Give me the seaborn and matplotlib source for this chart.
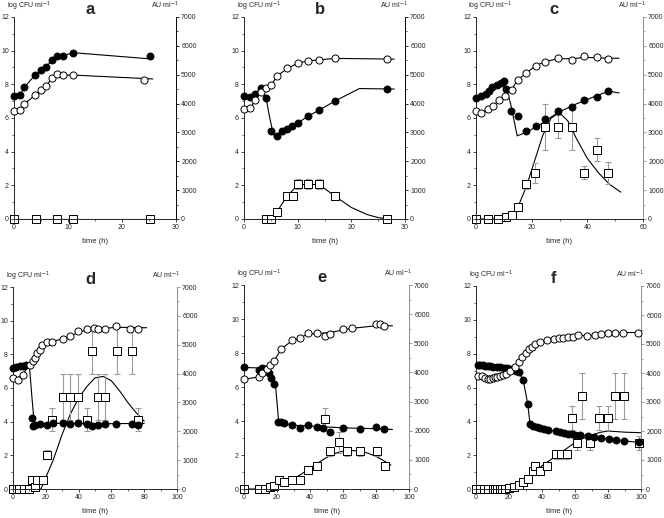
import numpy as np
import matplotlib
matplotlib.use("Agg")
import matplotlib.pyplot as plt
import seaborn as sns
from matplotlib.ticker import MultipleLocator

sns.set_style("ticks")
plt.rcParams['font.family'] = ['Liberation Sans', 'DejaVu Sans']

# -------------------------------
# panel a
# -------------------------------
a_fill_t = [0, 1.1, 1.9, 3.9, 5.0, 6.0, 7.0, 8.0, 9.1, 11.0, 25.1]
a_fill = [7.31, 7.35, 7.82, 8.55, 8.85, 9.05, 9.43, 9.68, 9.70, 9.88, 9.68]
a_fill_line_t = [0, 1.1, 1.9, 3.9, 5.0, 6.0, 7.0, 8.0, 9.1, 11.0, 25.7]
a_fill_line = [7.31, 7.35, 7.82, 8.55, 8.85, 9.05, 9.43, 9.68, 9.70, 9.88, 9.50]
a_open_t = [0, 1.1, 1.9, 3.9, 5.0, 6.0, 7.0, 8.0, 9.1, 11.0, 24.0]
a_open = [6.42, 6.50, 6.81, 7.37, 7.66, 7.92, 8.36, 8.61, 8.55, 8.55, 8.26]
a_open_line_t = [0, 1.1, 1.9, 3.9, 5.0, 6.0, 7.0, 8.0, 9.1, 11.0, 25.7]
a_open_line = [6.42, 6.50, 6.81, 7.37, 7.66, 7.92, 8.36, 8.61, 8.55, 8.55, 8.32]
a_sq_t = [0, 4.1, 8.0, 11.0, 25.1]
a_sq = [0, 0, 0, 0, 0]
a_sq_err = [0, 0, 0, 0, 0]
a_sq_line_t = [0, 26]
a_sq_line = [0, 0]

# -------------------------------
# panel b
# -------------------------------
b_fill_t = [0, 1.2, 2.1, 3.2, 4.1, 5.0, 6.1, 7.0, 8.1, 9.0, 10.0, 11.9, 13.9, 16.9, 26.7]
b_fill = [7.3, 7.25, 7.45, 7.8, 7.2, 5.2, 4.95, 5.25, 5.35, 5.5, 5.7, 6.1, 6.45, 7.0, 7.7]
b_fill_line_t = [0, 1.2, 2.1, 3.2, 4.1, 4.8, 5.5, 6.1, 7.0, 8.1, 9.0, 10.0, 11.9, 13.9, 16.9, 21.5, 28]
b_fill_line = [7.3, 7.25, 7.45, 7.8, 7.2, 6.0, 5.0, 4.95, 5.25, 5.35, 5.5, 5.7, 6.1, 6.45, 7.0, 7.75, 7.72]
b_open_t = [0, 1.2, 2.1, 3.2, 4.1, 5.1, 6.2, 8.1, 10.0, 11.9, 13.9, 16.9, 26.7]
b_open = [6.53, 6.57, 7.07, 7.56, 7.80, 7.96, 8.50, 8.95, 9.25, 9.39, 9.45, 9.54, 9.50]
b_open_line_t = [0, 1.2, 2.1, 3.2, 4.1, 5.1, 6.2, 8.1, 10.0, 11.9, 13.9, 16.9, 28]
b_open_line = [6.53, 6.57, 7.07, 7.56, 7.80, 7.96, 8.50, 8.95, 9.25, 9.39, 9.45, 9.54, 9.50]
b_sq_t = [4.1, 5.0, 6.1, 8.1, 9.1, 10.1, 12.0, 13.9, 16.9, 26.7]
b_sq = [0, 0, 230, 800, 800, 1200, 1200, 1200, 800, 0]
b_sq_err = [0, 0, 0, 110, 0, 170, 170, 170, 130, 0]
b_sq_line_t = [4.1, 5.0, 6.1, 7.0, 8.1, 10.0, 12.0, 14.0, 16.9, 20, 23, 25, 27]
b_sq_line = [0, 0, 230, 500, 800, 1180, 1200, 1190, 800, 400, 150, 50, 0]

# -------------------------------
# panel c
# -------------------------------
c_fill_t = [0, 1.7, 3.6, 4.8, 5.8, 7.5, 9.1, 10.1, 10.9, 12.5, 15.0, 18.1, 21.4, 24.7, 29.6, 34.6, 38.9, 43.4, 47.4]
c_fill = [7.16, 7.33, 7.45, 7.59, 7.82, 7.98, 8.08, 8.18, 7.75, 6.41, 6.12, 5.24, 5.53, 5.92, 6.41, 6.65, 7.04, 7.24, 7.59]
c_fill_line_t = [0, 1.7, 3.6, 4.8, 5.8, 7.5, 9.1, 10.1, 10.9, 12.5, 14.8, 18.0, 23.2, 29.3, 35.5, 42.8, 47.7, 51.4]
c_fill_line = [7.16, 7.33, 7.45, 7.59, 7.82, 7.98, 8.08, 8.18, 7.75, 6.8, 4.94, 5.14, 5.63, 6.31, 6.8, 7.29, 7.59, 7.49]
c_open_t = [0, 1.7, 4.2, 6.0, 8.2, 10.3, 12.8, 15.0, 18.1, 21.4, 24.8, 29.6, 34.6, 38.8, 43.4, 47.4]
c_open = [6.41, 6.27, 6.51, 6.71, 7.04, 7.29, 7.69, 8.27, 8.67, 9.10, 9.35, 9.55, 9.45, 9.69, 9.61, 9.49]
c_open_line_t = [0, 1.7, 4.2, 6.0, 8.2, 10.3, 12.8, 15.0, 18.1, 21.4, 24.8, 29.6, 34.6, 38.8, 43.4, 47.4, 51.4]
c_open_line = [6.41, 6.27, 6.51, 6.71, 7.04, 7.29, 7.69, 8.27, 8.67, 9.10, 9.35, 9.52, 9.52, 9.6, 9.58, 9.55, 9.55]
c_sq_t = [0, 4.2, 7.9, 10.9, 12.8, 15.0, 18.0, 21.1, 24.8, 29.6, 34.6, 38.8, 43.4, 47.4]
c_sq = [0, 0, 0, 57, 137, 400, 1200, 1600, 3190, 3190, 3190, 1600, 2400, 1600]
c_sq_err = [0, 0, 0, 0, 0, 0, 150, 350, 800, 400, 800, 220, 400, 380]
c_sq_line_t = [0, 10, 12.5, 15, 18, 21, 24, 27, 30, 33, 36, 40, 44, 48, 52]
c_sq_line = [0, 0, 100, 400, 1100, 2000, 2900, 3500, 3680, 3400, 2800, 2100, 1600, 1200, 930]

# -------------------------------
# panel d
# -------------------------------
d_fill_t = [0, 2.0, 4.1, 6.2, 8.2, 11.3, 12.1, 13.3, 16.2, 20.9, 24.6, 30.2, 34.7, 39.8, 45.2, 48.1, 51.7, 55.8, 63.0, 72.3, 76.4]
d_fill = [7.19, 7.23, 7.29, 7.33, 7.39, 4.22, 3.72, 3.82, 3.86, 3.82, 3.92, 3.92, 3.88, 3.92, 3.86, 3.74, 3.82, 3.88, 3.88, 3.88, 3.82]
d_fill_line_t = [0, 10.0, 11.5, 13.0, 20, 40, 60, 80]
d_fill_line = [7.2, 7.35, 5.5, 3.85, 3.9, 3.9, 3.88, 3.9]
d_open_t = [0, 2.9, 6.2, 10.3, 12.1, 13.3, 14.8, 16.2, 17.9, 20.5, 24.0, 30.2, 34.7, 39.8, 45.2, 49.3, 51.7, 55.8, 63.0, 71.3, 76.4]
d_open = [6.59, 6.49, 6.79, 7.39, 7.58, 7.78, 8.08, 8.28, 8.57, 8.71, 8.71, 8.93, 9.07, 9.37, 9.50, 9.54, 9.50, 9.50, 9.70, 9.52, 9.52]
d_open_line_t = [0, 2.9, 6.2, 10.3, 12.1, 13.3, 14.8, 16.2, 17.9, 20.5, 24.0, 30.2, 34.7, 39.8, 45.2, 49.3, 55.8, 63.0, 71.3, 81.5]
d_open_line = [6.59, 6.6, 6.85, 7.39, 7.58, 7.78, 8.08, 8.28, 8.57, 8.71, 8.75, 8.93, 9.07, 9.3, 9.45, 9.5, 9.55, 9.6, 9.6, 9.58]
d_sq_t = [0, 3.5, 6.6, 9.7, 11.7, 13.3, 14.8, 18.5, 20.9, 24.0, 30.2, 34.7, 39.4, 45.2, 48.1, 51.7, 55.8, 63.5, 72.7, 76.0]
d_sq = [0, 0, 0, 0, 300, 60, 300, 300, 1190, 2400, 3190, 3190, 3190, 2400, 4770, 3190, 3190, 4770, 4770, 2400]
d_sq_err = [0, 0, 0, 0, 0, 0, 0, 0, 150, 400, 800, 800, 800, 400, 800, 800, 800, 800, 800, 400]
d_sq_line_t = [0, 17, 20, 24.5, 30, 35, 40, 45, 50, 55, 60, 65, 70, 75, 80]
d_sq_line = [0, 0, 400, 1000, 1900, 2600, 3150, 3550, 3850, 3900, 3750, 3400, 3000, 2650, 2350]

# -------------------------------
# panel e
# -------------------------------
e_fill_t = [0, 9.1, 11.2, 12.6, 14.0, 15.2, 16.6, 18.3, 20.7, 22.7, 24.3, 28.8, 33.9, 38.5, 44.0, 48.0, 52.1, 59.8, 70.4, 80.1, 84.6]
e_fill = [7.2, 7.0, 7.1, 7.05, 6.95, 6.8, 6.55, 6.2, 3.96, 3.96, 3.87, 3.77, 3.57, 3.77, 3.67, 3.6, 3.35, 3.57, 3.55, 3.65, 3.52]
e_fill_line_t = [0, 15, 17, 19, 21, 25, 30, 40, 50, 60, 70, 80, 90]
e_fill_line = [7.15, 7.1, 6.8, 6.2, 4.0, 3.85, 3.75, 3.7, 3.65, 3.6, 3.57, 3.55, 3.5]
e_open_t = [0, 9.1, 11.2, 14.0, 15.6, 18.3, 22.7, 28.8, 33.9, 38.5, 44.0, 49.1, 52.1, 59.8, 65.3, 79.9, 82.2, 84.6]
e_open = [6.45, 6.6, 6.8, 7.05, 7.3, 7.55, 8.25, 8.75, 8.9, 9.2, 9.15, 9.0, 9.1, 9.4, 9.45, 9.7, 9.7, 9.6]
e_open_line_t = [0, 9.1, 11.2, 14.0, 15.6, 18.3, 22.7, 28.8, 33.9, 38.5, 44.0, 52.1, 59.8, 65.3, 79.9, 90]
e_open_line = [6.45, 6.6, 6.8, 7.05, 7.3, 7.55, 8.25, 8.7, 8.9, 9.1, 9.15, 9.2, 9.35, 9.45, 9.6, 9.6]
e_sq_t = [0, 9.1, 12.6, 15.6, 18.3, 21.3, 24.3, 28.8, 33.9, 38.9, 44.0, 49.1, 52.1, 57.8, 62.7, 70.0, 80.9, 85.2]
e_sq = [0, 0, 0, 70, 90, 320, 240, 320, 320, 640, 800, 2390, 1290, 1600, 1290, 1290, 1290, 800]
e_sq_err = [0, 0, 0, 0, 0, 0, 0, 0, 0, 0, 120, 400, 150, 350, 150, 150, 150, 120]
e_sq_line_t = [0, 17, 20, 25, 30, 35, 40, 45, 50, 55, 60, 65, 70, 75, 80, 85, 89]
e_sq_line = [0, 0, 100, 250, 350, 520, 720, 900, 1080, 1220, 1300, 1320, 1300, 1230, 1120, 960, 820]

# -------------------------------
# panel f
# -------------------------------
f_fill_t = [1.0, 2.4, 4.1, 5.7, 7.1, 8.6, 10.6, 12.7, 14.7, 16.7, 18.8, 20.8, 22.9, 24.5, 25.9, 28.6, 31.4, 32.7, 34.7, 36.7, 38.8, 41.2, 43.7, 48.4, 50.8, 53.5, 55.5, 58.0, 60.0, 63.3, 67.8, 71.8, 75.9, 80.6, 85.1, 89.8, 99.0]
f_fill = [7.35, 7.33, 7.32, 7.3, 7.28, 7.25, 7.22, 7.2, 7.2, 7.18, 7.15, 7.12, 7.1, 7.0, 6.9, 6.45, 5.0, 3.85, 3.75, 3.68, 3.62, 3.55, 3.5, 3.4, 3.35, 3.3, 3.28, 3.25, 3.22, 3.2, 3.15, 3.1, 3.0, 2.95, 2.9, 2.85, 2.75]
f_open_t = [1.0, 3.5, 5.5, 7.1, 8.6, 10.0, 11.6, 13.0, 14.7, 16.3, 18.0, 20.8, 23.5, 25.9, 28.0, 30.0, 32.0, 34.0, 36.0, 39.0, 43.0, 47.0, 50.0, 53.0, 56.0, 59.0, 62.0, 67.0, 72.0, 76.0, 80.0, 84.0, 89.0, 98.0]
f_open = [6.66, 6.66, 6.55, 6.5, 6.5, 6.55, 6.6, 6.65, 6.7, 6.75, 6.8, 7.0, 7.2, 7.5, 7.8, 8.05, 8.25, 8.4, 8.55, 8.7, 8.8, 8.85, 8.9, 8.95, 9.0, 9.0, 9.1, 9.05, 9.1, 9.15, 9.2, 9.2, 9.25, 9.25]
f_sq_t = [0, 2.5, 5, 7.5, 10, 11.5, 13, 14.5, 16, 17.5, 20.2, 23, 26, 28.6, 31.4, 34.5, 36, 38.8, 43.3, 48.4, 51.8, 55, 58, 61, 64, 68.8, 74.3, 80, 84, 89.8, 99]
f_sq = [0, 0, 0, 0, 0, 0, 0, 0, 0, 0, 50, 70, 130, 250, 350, 610, 810, 610, 810, 1190, 1190, 1190, 2450, 1580, 3200, 1580, 2450, 2450, 3200, 3200, 1580]
f_sq_err = [0, 0, 0, 0, 0, 0, 0, 0, 0, 0, 0, 0, 0, 0, 0, 100, 100, 100, 100, 150, 150, 150, 400, 250, 800, 250, 400, 400, 800, 800, 250]
f_sq_line_t = [0, 18, 22, 26, 30, 35, 40, 45, 50, 55, 60, 65, 70, 75, 80, 85, 90, 95, 100]
f_sq_line = [0, 0, 50, 150, 300, 550, 800, 1000, 1200, 1400, 1600, 1750, 1850, 1950, 2000, 1980, 1960, 1950, 1940]

W, H = 664, 518


def rect(x0, x1, y0, y1):
    return [x0 / W, 1 - y1 / H, (x1 - x0) / W, (y1 - y0) / H]


def draw_panel(box, letter, xmax, xstep, fill, open_, sq, right_col):
    ax = fig.add_axes(box)
    ax2 = ax.twinx()
    ax.set_zorder(ax2.get_zorder() + 1)
    ax.patch.set_visible(False)

    # square series on the AU axis
    st, sv, se, slt, slv = sq
    sns.lineplot(x=slt, y=slv, ax=ax2, color='black', lw=0.8, sort=False, estimator=None)
    et = [t for t, e in zip(st, se) if e > 0]
    ev = [v for v, e in zip(sv, se) if e > 0]
    ee = [e for e in se if e > 0]
    if ee:
        ax2.errorbar(et, ev, yerr=ee, fmt='none', ecolor='#9a9a9a', elinewidth=0.8,
                     capsize=2, capthick=0.8, zorder=2)
    sns.scatterplot(x=st, y=sv, ax=ax2, marker='s', s=30, facecolor='white',
                    edgecolor='black', linewidth=0.7, zorder=3, clip_on=False)

    # circle series on the log axis
    ft, fv, flt, flv = fill
    ot, ov, olt, olv = open_
    sns.lineplot(x=flt, y=flv, ax=ax, color='black', lw=0.8, sort=False, estimator=None)
    sns.lineplot(x=olt, y=olv, ax=ax, color='black', lw=0.8, sort=False, estimator=None)
    sns.scatterplot(x=ft, y=fv, ax=ax, marker='o', s=26, color='black',
                    edgecolor='black', linewidth=0.6, zorder=4, clip_on=False)
    sns.scatterplot(x=ot, y=ov, ax=ax, marker='o', s=26, facecolor='white',
                    edgecolor='black', linewidth=0.7, zorder=4, clip_on=False)

    ax.set_xlim(0, xmax)
    ax.set_ylim(0, 12)
    ax2.set_ylim(0, 7000)
    ax.xaxis.set_major_locator(MultipleLocator(xstep))
    ax.xaxis.set_minor_locator(MultipleLocator(xstep / 2))
    ax.yaxis.set_major_locator(MultipleLocator(2))
    ax.yaxis.set_minor_locator(MultipleLocator(1))
    ax2.yaxis.set_major_locator(MultipleLocator(1000))
    ax2.yaxis.set_minor_locator(MultipleLocator(500))
    ax.set_ylabel('')
    ax2.set_ylabel('')

    for a in (ax, ax2):
        a.tick_params(which='major', direction='out', length=2.5, width=0.6, labelsize=5, pad=1.2)
        a.tick_params(which='minor', direction='out', length=1.5, width=0.5)
    ax2.tick_params(which='both', color=right_col)
    ax.spines['top'].set_visible(False)
    ax.spines['right'].set_visible(False)
    for s in ('top', 'left', 'bottom'):
        ax2.spines[s].set_visible(False)
    ax2.spines['right'].set_color(right_col)
    ax2.spines['right'].set_linewidth(0.7)
    ax.spines['left'].set_linewidth(0.7)
    ax.spines['bottom'].set_linewidth(0.7)

    ax.text(-0.045, 1.04, 'log CFU ml$^{-1}$', transform=ax.transAxes, fontsize=5,
            va='baseline', ha='left')
    ax.text(1.015, 1.04, 'AU ml$^{-1}$', transform=ax.transAxes, fontsize=5,
            va='baseline', ha='right')
    ax.text(0.47, 1.017, letter, transform=ax.transAxes, fontsize=12, fontweight='bold',
            va='baseline', ha='center')
    ax.set_xlabel('time (h)', fontsize=5.5, labelpad=5)


fig = plt.figure(figsize=(6.64, 5.18), dpi=100)

draw_panel(rect(14, 176, 17, 219), 'a', 30, 10,
           (a_fill_t, a_fill, a_fill_line_t, a_fill_line),
           (a_open_t, a_open, a_open_line_t, a_open_line),
           (a_sq_t, a_sq, a_sq_err, a_sq_line_t, a_sq_line), 'black')
draw_panel(rect(244, 405, 17, 219), 'b', 30, 10,
           (b_fill_t, b_fill, b_fill_line_t, b_fill_line),
           (b_open_t, b_open, b_open_line_t, b_open_line),
           (b_sq_t, b_sq, b_sq_err, b_sq_line_t, b_sq_line), 'black')
draw_panel(rect(476, 643, 17, 219), 'c', 60, 20,
           (c_fill_t, c_fill, c_fill_line_t, c_fill_line),
           (c_open_t, c_open, c_open_line_t, c_open_line),
           (c_sq_t, c_sq, c_sq_err, c_sq_line_t, c_sq_line), '#8c8c8c')
draw_panel(rect(13, 177, 287, 489), 'd', 100, 20,
           (d_fill_t, d_fill, d_fill_line_t, d_fill_line),
           (d_open_t, d_open, d_open_line_t, d_open_line),
           (d_sq_t, d_sq, d_sq_err, d_sq_line_t, d_sq_line), '#8c8c8c')
draw_panel(rect(244, 409, 285, 489), 'e', 100, 20,
           (e_fill_t, e_fill, e_fill_line_t, e_fill_line),
           (e_open_t, e_open, e_open_line_t, e_open_line),
           (e_sq_t, e_sq, e_sq_err, e_sq_line_t, e_sq_line), '#8c8c8c')
draw_panel(rect(476, 641, 286, 489), 'f', 100, 20,
           (f_fill_t, f_fill, f_fill_t, f_fill),
           (f_open_t, f_open, f_open_t, f_open),
           (f_sq_t, f_sq, f_sq_err, f_sq_line_t, f_sq_line), '#8c8c8c')

fig.savefig('out.png', dpi=100)
